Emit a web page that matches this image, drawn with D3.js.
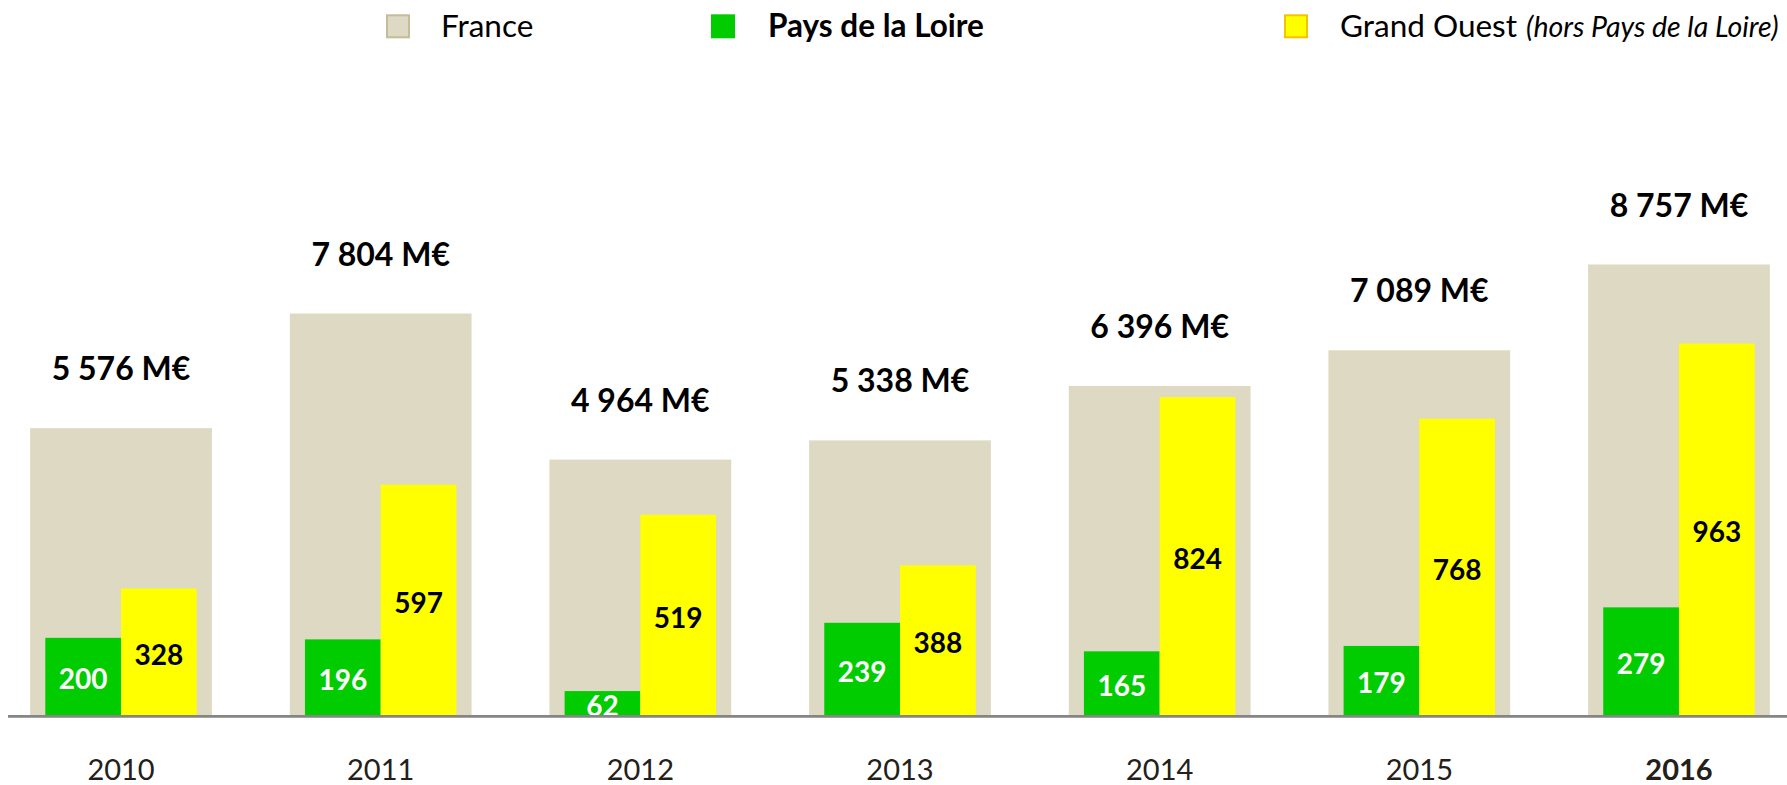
<!DOCTYPE html>
<html>
<head>
<meta charset="utf-8">
<script src="https://cdn.jsdelivr.net/npm/d3@7"></script>
<style>
  html, body { margin: 0; padding: 0; background: #fff; }
  svg { display: block; }
  text { font-family: "Lato", "Carlito", "Open Sans", sans-serif; }
</style>
</head>
<body>
<svg id="chart" width="1787" height="785"></svg>
<script>
// ---- data ----
const years = ["2010", "2011", "2012", "2013", "2014", "2015", "2016"];
const france = [5576, 7804, 4964, 5338, 6396, 7089, 8757];          // M€
const paysDeLaLoire = [200, 196, 62, 239, 165, 179, 279];           // M€
const grandOuest = [328, 597, 519, 388, 824, 768, 963];             // M€
const seriesNames = ["France", "Pays de la Loire", "Grand Ouest"];
const legendNote = "(hors Pays de la Loire)";
const highlightYear = "2016";

// ---- layout ----
const W = 1787, H = 785;
const baseY = 715, topY = 252;
const colors = { france: "#ddd9c3", franceEdge: "#c4bd97", pdl: "#00cc00", go: "#ffff00", goEdge: "#f5c400" };

const svg = d3.select("#chart");

const x = d3.scaleBand().domain(years).range([-8.8, 1808.8]).paddingInner(0.3).paddingOuter(0.15);
const xSub = d3.scaleBand().domain(["pdl", "go"]).range([0, x.bandwidth()]).paddingInner(0).paddingOuter(0.2);
const yFr = d3.scaleLinear().domain([0, 9000]).range([baseY, topY]);
const yReg = d3.scaleLinear().domain([0, 1200]).range([baseY, topY]);

const locale = d3.formatLocale({ decimal: ",", thousands: "\u00a0", grouping: [3], currency: ["", "€"] });
const fmt = locale.format(",");

const rows = years.map((y, i) => ({ year: y, fr: france[i], pdl: paysDeLaLoire[i], go: grandOuest[i] }));

// France bars (secondary axis)
svg.append("g").selectAll("rect").data(rows).join("rect")
  .attr("x", d => x(d.year))
  .attr("width", x.bandwidth())
  .attr("y", d => yFr(d.fr))
  .attr("height", d => baseY - yFr(d.fr))
  .attr("fill", colors.france);

// France labels
svg.append("g").selectAll("text").data(rows).join("text")
  .attr("x", d => x(d.year) + x.bandwidth() / 2)
  .attr("y", d => yFr(d.fr) - 48)
  .attr("text-anchor", "middle")
  .attr("font-size", 32)
  .attr("font-weight", 700)
  .attr("fill", "#000")
  .text(d => fmt(d.fr) + " M€");

// Regional bars
const regKeys = [{ key: "pdl", color: colors.pdl, label: "#fff" }, { key: "go", color: colors.go, label: "#000" }];
regKeys.forEach(k => {
  const g = svg.append("g");
  g.selectAll("rect").data(rows).join("rect")
    .attr("x", d => x(d.year) + xSub(k.key))
    .attr("width", xSub.bandwidth())
    .attr("y", d => yReg(d[k.key]))
    .attr("height", d => baseY - yReg(d[k.key]))
    .attr("fill", k.color);
  g.selectAll("text").data(rows).join("text")
    .attr("x", d => x(d.year) + xSub(k.key) + xSub.bandwidth() / 2)
    .attr("y", d => (yReg(d[k.key]) + baseY) / 2 + 13)
    .attr("text-anchor", "middle")
    .attr("font-size", 28)
    .attr("font-weight", 700)
    .attr("fill", k.label)
    .text(d => d[k.key]);
});

// Baseline
svg.append("line")
  .attr("x1", 8).attr("x2", W)
  .attr("y1", baseY + 1.4).attr("y2", baseY + 1.4)
  .attr("stroke", "#858585").attr("stroke-width", 2.8);

// X axis labels
const xAxis = d3.axisBottom(x).tickSize(0).tickPadding(0);
const ax = svg.append("g").attr("transform", `translate(0,${baseY})`).call(xAxis);
ax.select(".domain").remove();
ax.selectAll("text")
  .attr("y", 65).attr("dy", 0)
  .attr("font-size", 29)
  .attr("font-family", "Lato, Carlito, sans-serif")
  .attr("fill", "#23201a")
  .attr("font-weight", d => d === highlightYear ? 700 : 400);

// Legend
const legend = [
  { name: seriesNames[0], fill: colors.france, stroke: colors.franceEdge, sx: 386, tx: 441, bold: false },
  { name: seriesNames[1], fill: colors.pdl, stroke: colors.pdl, sx: 711, tx: 768, bold: true },
  { name: seriesNames[2], fill: colors.go, stroke: colors.goEdge, sx: 1284, tx: 1340, bold: false, note: legendNote }
];
const lg = svg.append("g").selectAll("g").data(legend).join("g");
lg.append("rect")
  .attr("x", d => d.sx + 1).attr("y", 15.3)
  .attr("width", 22).attr("height", 22)
  .attr("fill", d => d.fill)
  .attr("stroke", d => d.stroke).attr("stroke-width", 2);
const lt = lg.append("text")
  .attr("x", d => d.tx).attr("y", 36.7)
  .attr("font-size", 31.5)
  .attr("font-weight", d => d.bold ? 700 : 400)
  .attr("fill", "#000")
  .text(d => d.name);
lt.filter(d => d.note).append("tspan")
  .attr("font-style", "italic")
  .attr("font-size", 28.5)
  .attr("dx", 9)
  .text(d => d.note);
</script>
</body>
</html>
